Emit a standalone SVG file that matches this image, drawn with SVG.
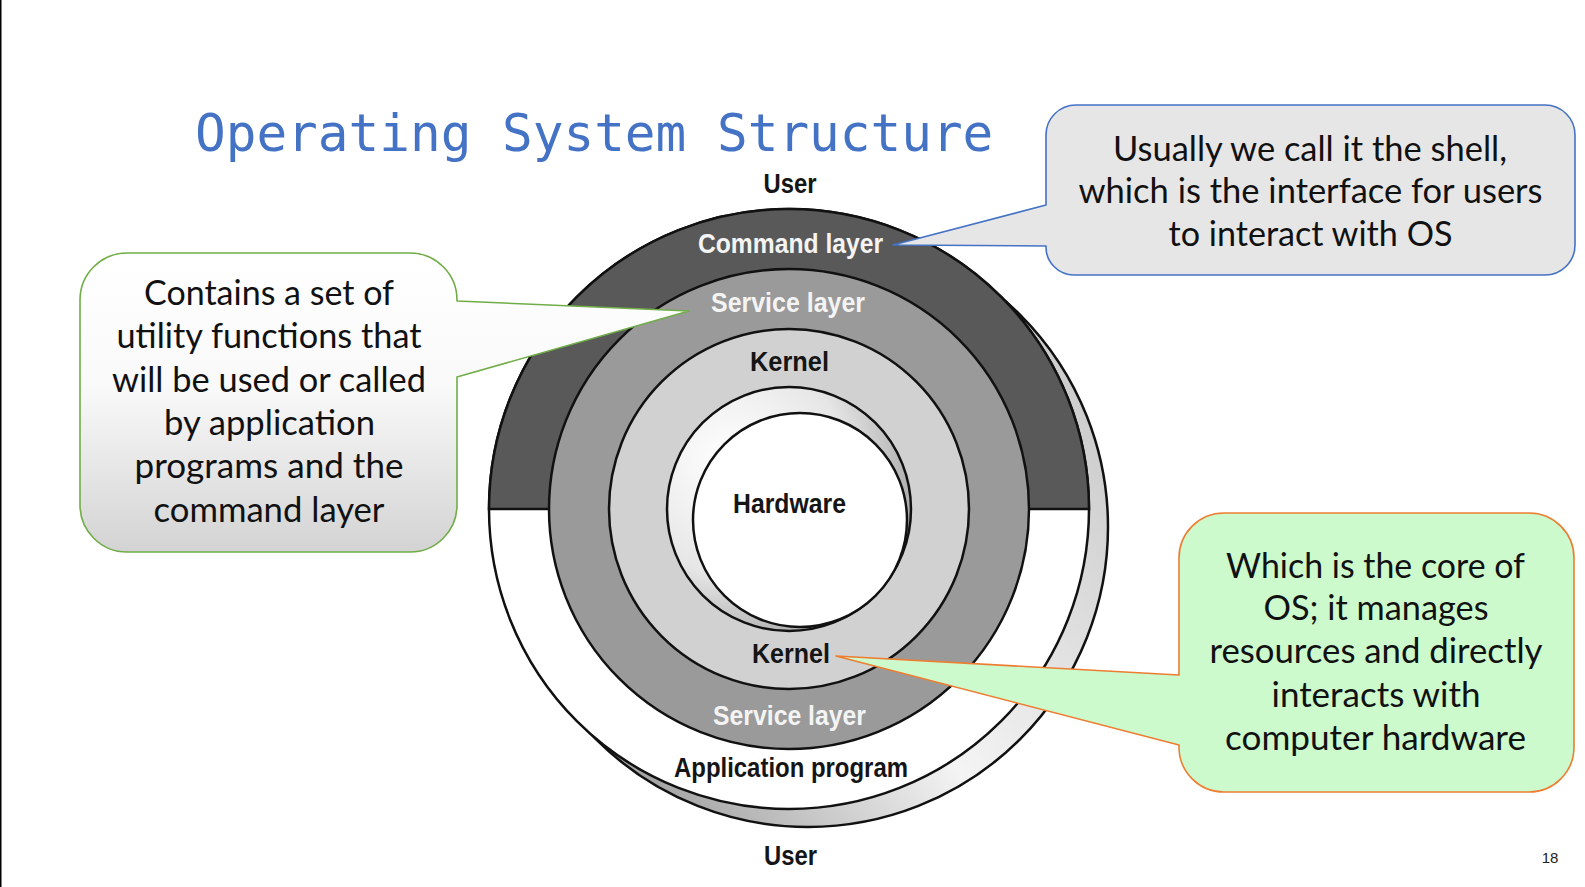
<svg xmlns="http://www.w3.org/2000/svg" width="1585" height="887" viewBox="0 0 1585 887">
<defs>
<linearGradient id="gLeft" x1="0" y1="0" x2="0" y2="1">
<stop offset="0" stop-color="#ffffff"/>
<stop offset="0.45" stop-color="#f9f9f9"/>
<stop offset="1" stop-color="#d3d3d3"/>
</linearGradient>
<linearGradient id="gShadow" x1="0.15" y1="1" x2="1" y2="0.35">
<stop offset="0" stop-color="#8f8f8f"/>
<stop offset="0.5" stop-color="#f4f4f4"/>
<stop offset="1" stop-color="#cdcdcd"/>
</linearGradient>
<radialGradient id="gHole" cx="0.25" cy="0.3" r="0.85">
<stop offset="0" stop-color="#ffffff"/>
<stop offset="0.55" stop-color="#e6e6e6"/>
<stop offset="1" stop-color="#9e9e9e"/>
</radialGradient>
<style>
.ring{stroke:#111;stroke-width:2.5}
.lbl{font-family:"Liberation Sans",Arial,sans-serif;font-weight:bold;font-size:27px;text-anchor:middle}
.dk{fill:#151515}
.wt{fill:#f4f4f4}
.ct{font-family:Lato,"Liberation Sans",sans-serif;font-size:34px;fill:#111;text-anchor:middle}
</style>
</defs>
<rect x="0" y="0" width="1585" height="887" fill="#ffffff"/>
<rect x="0" y="0" width="1.5" height="887" fill="#000"/>

<g id="title">
<text x="195" y="151" font-family="'DejaVu Sans Mono','Liberation Mono',monospace" font-size="51" fill="#4472C4">Operating System Structure</text>
</g>

<g id="rings">
<circle id="shadow" class="ring" cx="808" cy="527" r="300" fill="url(#gShadow)"/>
<circle id="outer" class="ring" cx="789" cy="509" r="300" fill="#ffffff"/>
<path id="command-layer" class="ring" d="M489,509 A300,300 0 0 1 1089,509 Z" fill="#595959"/>
<circle id="service-layer" class="ring" cx="789" cy="509" r="240" fill="#9a9a9a"/>
<circle id="kernel" class="ring" cx="789" cy="509" r="180" fill="#d1d1d1"/>
<circle id="hole" class="ring" cx="789" cy="509" r="122" fill="url(#gHole)"/>
<circle id="hardware" class="ring" cx="800" cy="520" r="107" fill="#ffffff"/>
</g>

<g id="labels">
<text class="lbl dk" x="790" y="193" textLength="53" lengthAdjust="spacingAndGlyphs">User</text>
<text class="lbl wt" x="790.5" y="253" textLength="185" lengthAdjust="spacingAndGlyphs">Command layer</text>
<text class="lbl wt" x="788" y="312" textLength="154" lengthAdjust="spacingAndGlyphs">Service layer</text>
<text class="lbl dk" x="789.5" y="371" textLength="79" lengthAdjust="spacingAndGlyphs">Kernel</text>
<text class="lbl dk" x="789.5" y="513" textLength="113" lengthAdjust="spacingAndGlyphs">Hardware</text>
<text class="lbl dk" x="791" y="663" textLength="78" lengthAdjust="spacingAndGlyphs">Kernel</text>
<text class="lbl wt" x="789.5" y="725" textLength="153" lengthAdjust="spacingAndGlyphs">Service layer</text>
<text class="lbl dk" x="791" y="777" textLength="234" lengthAdjust="spacingAndGlyphs">Application program</text>
<text class="lbl dk" x="790.5" y="865" textLength="53" lengthAdjust="spacingAndGlyphs">User</text>
</g>

<g id="callout-shell">
<path d="M1076,105 H1545 A30,30 0 0 1 1575,135 V245 A30,30 0 0 1 1545,275 H1074 A28,28 0 0 1 1046,247 V246 L893,245 L1046,205 V135 A30,30 0 0 1 1076,105 Z" fill="#e7e6e6" stroke="#4472C4" stroke-width="1.6" stroke-linejoin="round"/>
<text class="ct" x="1310" y="161" textLength="394" lengthAdjust="spacingAndGlyphs">Usually we call it the shell,</text>
<text class="ct" x="1310.5" y="203" textLength="464" lengthAdjust="spacingAndGlyphs">which is the interface for users</text>
<text class="ct" x="1310.5" y="246" textLength="284" lengthAdjust="spacingAndGlyphs">to interact with OS</text>
</g>

<g id="callout-service">
<path d="M127,253 H410 A47,47 0 0 1 457,300 V301 L689,311 L457,377 V505 A47,47 0 0 1 410,552 H127 A47,47 0 0 1 80,505 V300 A47,47 0 0 1 127,253 Z" fill="url(#gLeft)" stroke="#70AD47" stroke-width="1.6" stroke-linejoin="round"/>
<text class="ct" x="269" y="305" textLength="250" lengthAdjust="spacingAndGlyphs">Contains a set of</text>
<text class="ct" x="269" y="348" textLength="305" lengthAdjust="spacingAndGlyphs">utility functions that</text>
<text class="ct" x="269" y="392" textLength="314" lengthAdjust="spacingAndGlyphs">will be used or called</text>
<text class="ct" x="269.5" y="435" textLength="211" lengthAdjust="spacingAndGlyphs">by application</text>
<text class="ct" x="269" y="478" textLength="269" lengthAdjust="spacingAndGlyphs">programs and the</text>
<text class="ct" x="269" y="522" textLength="231" lengthAdjust="spacingAndGlyphs">command layer</text>
</g>

<g id="callout-kernel">
<path d="M1224,513 H1529 A45,45 0 0 1 1574,558 V747 A45,45 0 0 1 1529,792 H1224 A45,45 0 0 1 1179,747 V745 L836,656 L1179,675 V558 A45,45 0 0 1 1224,513 Z" fill="#ccfacc" stroke="#ED7D31" stroke-width="1.6" stroke-linejoin="round"/>
<text class="ct" x="1375.5" y="578" textLength="299" lengthAdjust="spacingAndGlyphs">Which is the core of</text>
<text class="ct" x="1376" y="620" textLength="225" lengthAdjust="spacingAndGlyphs">OS; it manages</text>
<text class="ct" x="1376" y="663" textLength="333" lengthAdjust="spacingAndGlyphs">resources and directly</text>
<text class="ct" x="1376" y="707" textLength="209" lengthAdjust="spacingAndGlyphs">interacts with</text>
<text class="ct" x="1375.5" y="750" textLength="301" lengthAdjust="spacingAndGlyphs">computer hardware</text>
</g>

<g id="page-number">
<text x="1550" y="863" font-family="'Liberation Sans',Arial,sans-serif" font-size="15" fill="#222" text-anchor="middle">18</text>
</g>
</svg>
